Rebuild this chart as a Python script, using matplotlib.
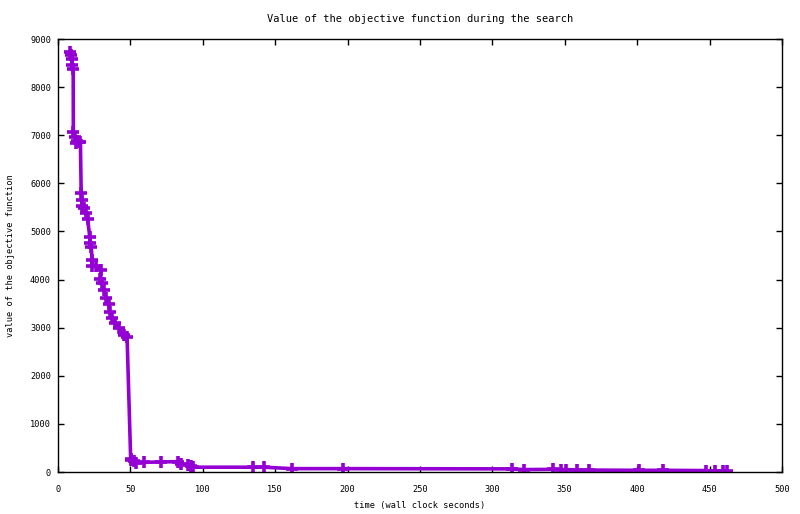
import matplotlib
matplotlib.use('Agg')
import matplotlib.pyplot as plt

# time (s) and objective value
times = [8.6, 9.2, 9.6, 9.8, 10.5, 10.6, 11.4, 12.1, 13.2, 14.3, 15.5, 16.0, 16.7, 16.8,
         17.8, 19.0, 20.5, 21.9, 22.4, 22.9, 23.6, 23.7, 25.9, 29.8, 29.3, 30.5, 31.6,
         33.4, 35.0, 35.7, 37.4, 39.7, 41.9, 45.4, 47.7, 50.2,
         50.6, 52.3, 54.1, 59.6, 70.9, 82.6, 84.9, 89.5, 91.8, 93.3, 135.0, 142.4,
         161.4, 196.9, 313.8, 322.0, 341.7, 347.5, 351.0, 358.5, 367.0, 401.2,
         417.9, 447.4, 453.8, 459.3, 462.0]
values = [8720, 8670, 8580, 8470, 8370, 7075, 6970, 6833, 6888, 6850, 6850, 5807, 5655, 5530,
          5482, 5390, 5253, 4892, 4754, 4684, 4407, 4283, 4275, 4200, 4006, 3923, 3784,
          3611, 3493, 3333, 3195, 3091, 2987, 2848, 2813, 260,
          240, 220, 190, 200, 210, 215, 170, 150, 130, 100, 100, 100,
          70, 70, 65, 50, 55, 50, 50, 40, 40, 35,
          35, 30, 20, 20, 15]

x_ticks = [0, 50, 100, 150, 200, 250, 300, 350, 400, 450, 500]
y_ticks = [0, 1000, 2000, 3000, 4000, 5000, 6000, 7000, 8000, 9000]

plt.rcParams['font.family'] = 'DejaVu Sans Mono'
plt.rcParams['font.size'] = 6.2

fig = plt.figure(figsize=(8, 5.14), dpi=100)
ax = fig.add_axes([0.0725, 0.0817, 0.905, 0.8424])

ax.plot(times, values, color='#9400D3', linewidth=2.6, marker='+',
        markersize=8.5, markeredgewidth=2.6)

ax.set_xlim(0, 500)
ax.set_ylim(0, 9000)
ax.set_xticks(x_ticks)
ax.set_yticks(y_ticks)
ax.tick_params(direction='in', length=4, width=1, top=True, right=True)
ax.tick_params(axis='y', pad=5)
ax.tick_params(axis='x', pad=9)
for s in ax.spines.values():
    s.set_linewidth(1)

ax.set_title('Value of the objective function during the search', pad=12)
ax.set_xlabel('time (wall clock seconds)', labelpad=5.5)
ax.set_ylabel('value of the objective function', labelpad=11)

fig.savefig('out.png', dpi=100)
